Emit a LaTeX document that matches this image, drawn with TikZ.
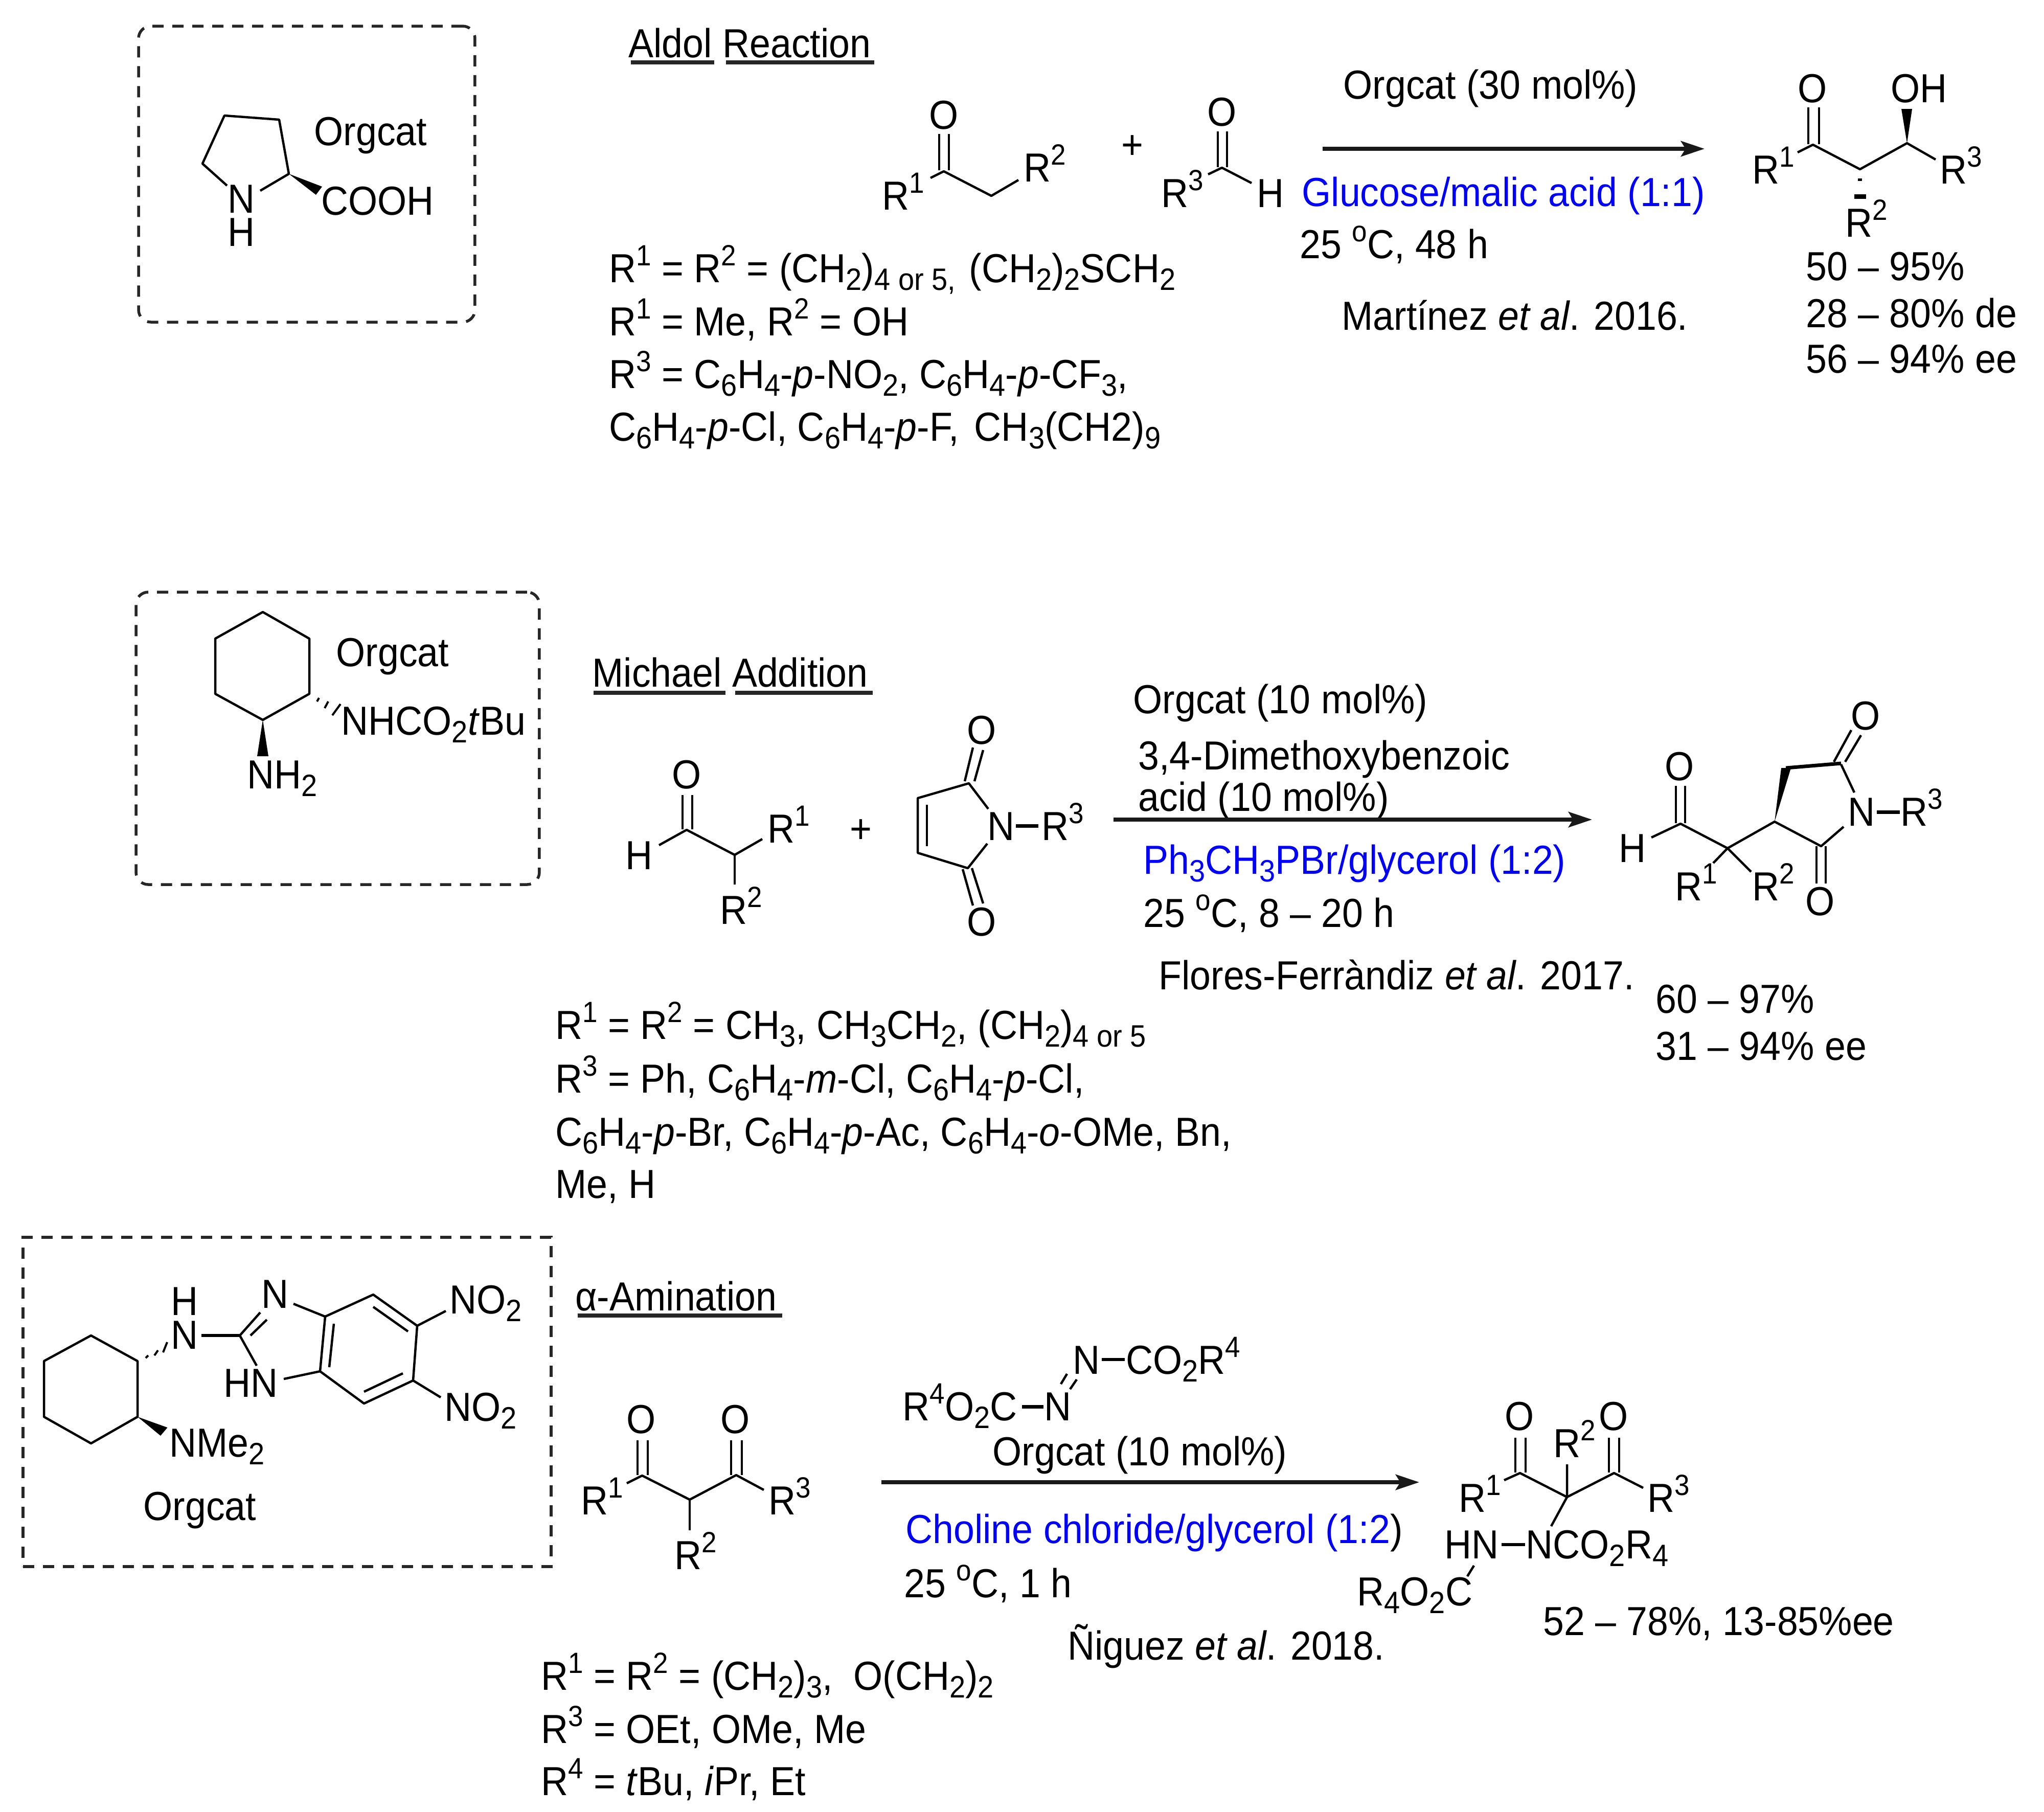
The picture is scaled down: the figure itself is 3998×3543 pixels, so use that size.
\documentclass[tikz,border=0pt]{standalone}
\usepackage{fontspec}
\setmainfont{Liberation Sans}
\usetikzlibrary{arrows.meta}
\newcommand{\hi}[1]{\raisebox{3pt}{\fontsize{5.3}{6}\selectfont #1}}
\newcommand{\lo}[1]{\raisebox{-1.4pt}{\fontsize{5.6}{6}\selectfont #1}}
\tikzset{
  basetxt/.style={inner sep=0pt,outer sep=0pt,yscale=1.08,transform shape,font=\fontsize{7.35}{9}\selectfont},
  txt/.style={basetxt,anchor=base west,xshift=-0.45pt},
  atom/.style={basetxt,anchor=base},
  bond/.style={line width=0.45pt,black,line join=round},
  thickbond/.style={line width=0.7pt,black},
  uline/.style={line width=0.8pt,black!85},
  rxn/.style={line width=0.8pt,black!90,-{Stealth[length=4.6pt,width=3pt,inset=0.9pt]}},
  catbox/.style={draw=black!85,line width=0.55pt,dash pattern=on 2.2pt off 1.7pt,inner sep=0pt},
  solv/.style={txt,text=blue},
}
\begin{document}
\begin{tikzpicture}[x=0.1pt,y=-0.1pt]
\useasboundingbox (0,0) rectangle (3998,3543);
% ---------- boxes
\node[catbox,rounded corners=2.4pt,minimum width=65.8pt,minimum height=57.9pt] (boxA) at (600,340.5) {};
\node[catbox,rounded corners=2.4pt,minimum width=78.9pt,minimum height=57.2pt] (boxB) at (660.5,1444) {};
\node[catbox,minimum width=103.3pt,minimum height=64.4pt] (boxC) at (561.5,2742) {};

% ---------- Aldol: catalyst
\draw[bond] (444,363) -- (396,320) -- (439,226) -- (546,234) -- (565,340) -- (509,373);
\fill (565,340) -- (630,365) -- (618,381) -- cycle;
\node[txt] (catAn) at (450,416) {N};
\node[txt] (catAh) at (450,481) {H};
\node[txt] (catAc) at (633,420) {COOH};
\node[txt] (catAo) at (619,284) {Orgcat};
% heading
\node[txt] (hdA) at (1234,112) {Aldol Reaction};
\draw[uline] (1234,122) -- (1397,122);
\draw[uline] (1420,122) -- (1710,122);
% ketone
\node[atom] (kO) at (1846,252) {O};
\draw[bond] (1837,262) -- (1837,333);
\draw[bond] (1856,262) -- (1856,333);
\draw[bond] (1820,348) -- (1846,335) -- (1939,383) -- (1992,352);
\node[txt] (kR1) at (1730,410) {R\hi{1}};
\node[txt] (kR2) at (2007,355) {R\hi{2}};
\node[atom] (plusA) at (2215,310) {+};
% aldehyde
\node[atom] (aO) at (2390,246) {O};
\draw[bond] (2382,257) -- (2382,327);
\draw[bond] (2400,257) -- (2400,327);
\draw[bond] (2363,341) -- (2390,328) -- (2448,358);
\node[txt] (aR3) at (2276,405) {R\hi{3}};
\node[txt] (aH) at (2463,405) {H};
% conditions
\node[txt] (cA1) at (2632,193) {Orgcat (30 mol\%)};
\coordinate (arAs) at (2587,291);
\coordinate (arAe) at (3334,291);
\draw[rxn] (arAs) -- (arAe);
\node[solv] (cA2) at (2551,403) {Glucose/malic acid (1:1)};
\node[txt] (cA3) at (2547,505) {25 \hi{o}C, 48 h};
\node[txt] (cA4) at (2629,645) {Martínez \textit{et al}. 2016.};
% product
\node[atom] (pAo) at (3545,200) {O};
\node[txt] (pAoh) at (3703,200) {OH};
\draw[bond] (3537,210) -- (3537,282);
\draw[bond] (3558,210) -- (3558,282);
\draw[bond] (3516,298) -- (3546,283) -- (3638,331) -- (3730,280) -- (3786,312);
\fill (3730,280) -- (3719,213) -- (3740,213) -- cycle;
\draw[line width=0.5pt] (3634,351) -- (3642,351);
\draw[line width=0.9pt] (3627,384) -- (3650,384);
\node[txt] (pAr1) at (3432,359) {R\hi{1}};
\node[txt] (pAr3) at (3799,359) {R\hi{3}};
\node[txt] (pAr2) at (3614,463) {R\hi{2}};
\node[txt] (yA1) at (3537,548) {50 – 95\%};
\node[txt] (yA2) at (3537,640) {28 – 80\% de};
\node[txt] (yA3) at (3537,729) {56 – 94\% ee};
% substituents
\node[txt] (sA1) at (1196,552) {R\hi{1} = R\hi{2} = (CH\lo{2})\lo{4 or 5}\lo{,}\hspace{0.6pt} (CH\lo{2})\lo{2}SCH\lo{2}};
\node[txt] (sA2) at (1196,656) {R\hi{1} = Me, R\hi{2} = OH};
\node[txt] (sA3) at (1196,759) {R\hi{3} = C\lo{6}H\lo{4}-\textit{p}-NO\lo{2}, C\lo{6}H\lo{4}-\textit{p}-CF\lo{3},};
\node[txt] (sA4) at (1196,862) {C\lo{6}H\lo{4}-\textit{p}-Cl, C\lo{6}H\lo{4}-\textit{p}-F,\hspace{1pt} CH\lo{3}(CH2)\lo{9}};

% ---------- Michael: catalyst
\draw[bond] (514,1197) -- (605,1249) -- (605,1357) -- (514,1408) -- (421,1357) -- (421,1249) -- cycle;
\fill (514,1408) -- (503,1479) -- (525,1479) -- cycle;
\draw[line width=0.4pt] (620,1372) -- (624,1365);
\draw[line width=0.4pt] (635,1385) -- (642,1372);
\draw[line width=0.4pt] (650,1399) -- (666,1377);
\node[txt] (catBo) at (662,1303) {Orgcat};
\node[txt] (catBa) at (672,1437) {NHCO\lo{2}\textit{t}Bu};
\node[txt] (catBn) at (488,1542) {NH\lo{2}};
\node[txt] (hdB) at (1163,1343) {Michael Addition};
\draw[uline] (1161,1355) -- (1419,1355);
\draw[uline] (1438,1355) -- (1707,1355);
% aldehyde
\node[atom] (mO) at (1343,1542) {O};
\draw[bond] (1335,1555) -- (1335,1622);
\draw[bond] (1354,1555) -- (1354,1622);
\draw[bond] (1289,1653) -- (1343,1623) -- (1437,1672) -- (1491,1641);
\draw[bond] (1437,1672) -- (1437,1730);
\node[txt] (mH) at (1228,1700) {H};
\node[txt] (mR1) at (1506,1648) {R\hi{1}};
\node[txt] (mR2) at (1413,1807) {R\hi{2}};
\node[atom] (plusB) at (1684,1648) {+};
% maleimide
\node[atom] (iO1) at (1920,1455) {O};
\node[atom] (iO2) at (1920,1830) {O};
\draw[bond] (1887,1528) -- (1903,1462);
\draw[bond] (1906,1528) -- (1923,1467);
\draw[bond] (1933,1582) -- (1895,1532) -- (1795,1561) -- (1795,1668) -- (1893,1698) -- (1931,1650);
\draw[bond] (1813,1574) -- (1813,1655);
\draw[bond] (1883,1700) -- (1903,1771);
\draw[bond] (1901,1698) -- (1923,1767);
\node[txt] (iN) at (1936,1643) {N};
\draw[thickbond] (1987,1615) -- (2031,1615);
\node[txt] (iR3) at (2042,1643) {R\hi{3}};
% conditions
\node[txt] (cB1) at (2221,1395) {Orgcat (10 mol\%)};
\node[txt] (cB2) at (2231,1505) {3,4-Dimethoxybenzoic};
\node[txt] (cB3) at (2231,1586) {acid (10 mol\%)};
\coordinate (arBs) at (2178,1603);
\coordinate (arBe) at (3114,1603);
\draw[rxn] (arBs) -- (arBe);
\node[solv] (cB4) at (2241,1709) {Ph\lo{3}CH\lo{3}PBr/glycerol (1:2)};
\node[txt] (cB5) at (2241,1813) {25 \hi{o}C, 8 – 20 h};
\node[txt] (cB6) at (2271,1935) {Flores-Ferràndiz \textit{et al}. 2017.};
% product
\node[atom] (pBo) at (3285,1526) {O};
\draw[bond] (3278,1537) -- (3278,1610);
\draw[bond] (3296,1537) -- (3296,1610);
\draw[bond] (3230,1638) -- (3287,1611) -- (3379,1659) -- (3471,1607) -- (3562,1655) -- (3606,1617);
\draw[bond] (3351,1688) -- (3379,1659) -- (3425,1705);
\fill (3471,1607) -- (3484,1502) -- (3503,1502) -- cycle;
\draw[line width=0.7pt] (3493,1502) -- (3601,1493);
\draw[bond] (3587,1490) -- (3621,1428);
\draw[bond] (3609,1490) -- (3640,1438);
\draw[bond] (3601,1495) -- (3627,1550);
\draw[bond] (3553,1655) -- (3553,1728);
\draw[bond] (3571,1655) -- (3571,1728);
\node[txt] (pBh) at (3171,1686) {H};
\node[txt] (pBr1) at (3281,1761) {R\hi{1}};
\node[txt] (pBr2) at (3432,1761) {R\hi{2}};
\node[atom] (pBo2) at (3649,1427) {O};
\node[atom] (pBo3) at (3560,1790) {O};
\node[txt] (pBn) at (3619,1615) {N};
\draw[thickbond] (3671,1588) -- (3716,1588);
\node[txt] (pBr3) at (3722,1615) {R\hi{3}};
\node[txt] (yB1) at (3243,1981) {60 – 97\%};
\node[txt] (yB2) at (3243,2073) {31 – 94\% ee};
% substituents
\node[txt] (sB1) at (1091,2032) {R\hi{1} = R\hi{2} = CH\lo{3}, CH\lo{3}CH\lo{2}, (CH\lo{2})\lo{4 or 5}};
\node[txt] (sB2) at (1091,2137) {R\hi{3} = Ph, C\lo{6}H\lo{4}-\textit{m}-Cl, C\lo{6}H\lo{4}-\textit{p}-Cl,};
\node[txt] (sB3) at (1091,2241) {C\lo{6}H\lo{4}-\textit{p}-Br, C\lo{6}H\lo{4}-\textit{p}-Ac, C\lo{6}H\lo{4}-\textit{o}-OMe, Bn,};
\node[txt] (sB4) at (1091,2343) {Me, H};

% ---------- Amination: catalyst
\draw[bond] (178,2612) -- (269,2662) -- (269,2771) -- (178,2823) -- (86,2771) -- (86,2662) -- cycle;
\fill (269,2771) -- (327.5,2792) -- (314,2808) -- cycle;
\draw[line width=0.4pt] (285,2656) -- (290,2651);
\draw[line width=0.4pt] (302,2651) -- (309,2641);
\draw[line width=0.4pt] (319,2645) -- (327,2625);
\node[txt] (catCh) at (339,2572) {H};
\node[txt] (catCn) at (339,2638) {N};
\draw[line width=0.6pt] (394,2612) -- (469,2612);
\draw[bond] (469,2612) -- (509,2567);
\draw[bond] (490,2612) -- (522,2581);
\draw[bond] (469,2612) -- (502,2671);
\node[txt] (catCn2) at (516,2558) {N};
\node[txt] (catCnh) at (442,2732) {HN};
\draw[bond] (555,2697) -- (626,2682);
\draw[bond] (574,2550) -- (636,2575);
\draw[bond] (636,2575) -- (730,2532) -- (816,2593) -- (808,2700) -- (712,2745) -- (626,2682) -- cycle;
\draw[bond] (653,2589) -- (644,2674);
\draw[bond] (730,2556) -- (798,2604);
\draw[bond] (788,2686) -- (712,2722);
\draw[bond] (816,2593) -- (872,2564);
\draw[bond] (808,2700) -- (862,2733);
\node[txt] (catCno1) at (884,2569) {NO\lo{2}};
\node[txt] (catCno2) at (874,2779) {NO\lo{2}};
\node[txt] (catCme) at (336,2849) {NMe\lo{2}};
\node[txt] (catCo) at (285,2973) {Orgcat};
\node[txt] (hdC) at (1130,2563) {α-Amination};
\draw[uline] (1130,2573) -- (1530,2573);
% diketone
\node[atom] (dO1) at (1254,2803) {O};
\node[atom] (dO2) at (1438,2803) {O};
\draw[bond] (1247,2817) -- (1247,2885);
\draw[bond] (1267,2817) -- (1267,2885);
\draw[bond] (1430,2817) -- (1430,2885);
\draw[bond] (1451,2817) -- (1451,2885);
\draw[bond] (1226,2901) -- (1256,2886) -- (1349,2933) -- (1440,2885) -- (1494,2914);
\draw[bond] (1349,2933) -- (1349,2993);
\node[txt] (dR1) at (1141,2962) {R\hi{1}};
\node[txt] (dR3) at (1508,2962) {R\hi{3}};
\node[txt] (dR2) at (1324,3069) {R\hi{2}};
% azodicarboxylate
\node[txt] (zL) at (1770,2778) {R\hi{4}O\lo{2}C};
\draw[thickbond] (1999,2751) -- (2041,2751);
\node[txt] (zN1) at (2047,2778) {N};
\draw[bond] (2075,2707) -- (2087,2687);
\draw[bond] (2093,2717) -- (2106,2698);
\node[txt] (zN2) at (2103,2687) {N};
\draw[line width=0.6pt] (2155,2659) -- (2200,2659);
\node[txt] (zR) at (2207,2687) {CO\lo{2}R\hi{4}};
% conditions
\node[txt] (cC1) at (1946,2866) {Orgcat (10 mol\%)};
\coordinate (arCs) at (1724,2899);
\coordinate (arCe) at (2776,2899);
\draw[rxn] (arCs) -- (arCe);
\node[txt] (cC2) at (1776,3018) {\textcolor{blue}{Choline chloride/glycerol (1:2}\hspace{0pt})};
\node[txt] (cC3) at (1773,3124) {25 \hi{o}C, 1 h};
\node[txt] (cC4) at (2093,3246) {Ñiguez \textit{et al}. 2018.};
% product
\node[atom] (pCo1) at (2972,2797) {O};
\node[atom] (pCo2) at (3156,2797) {O};
\draw[bond] (2964,2812) -- (2964,2880);
\draw[bond] (2984,2812) -- (2984,2880);
\draw[bond] (3147,2812) -- (3147,2880);
\draw[bond] (3167,2812) -- (3167,2880);
\draw[bond] (2942,2895) -- (2973,2881) -- (3065,2928) -- (3157,2881) -- (3214,2910);
\draw[bond] (3065,2864) -- (3065,2928) -- (3034,2985);
\node[txt] (pCr1) at (2858,2957) {R\hi{1}};
\node[txt] (pCr2) at (3043,2850) {R\hi{2}};
\node[txt] (pCr3) at (3227,2957) {R\hi{3}};
\node[txt] (pChn) at (2830,3048) {HN};
\draw[line width=0.6pt] (2937,3021) -- (2983,3021);
\node[txt] (pCn) at (2989,3048) {NCO\lo{2}R\lo{4}};
\draw[bond] (2883,3062) -- (2870,3083);
\node[txt] (pCe) at (2659,3140) {R\lo{4}O\lo{2}C};
\node[txt] (yC) at (3023,3198) {52 – 78\%, 13-85\%ee};
% substituents
\node[txt] (sC1) at (1063,3305) {R\hi{1} = R\hi{2} = (CH\lo{2})\lo{3},\hspace{2pt} O(CH\lo{2})\lo{2}};
\node[txt] (sC2) at (1063,3409) {R\hi{3} = OEt, OMe, Me};
\node[txt] (sC3) at (1063,3511) {R\hi{4} = \textit{t}Bu, \textit{i}Pr, Et};
\end{tikzpicture}
\end{document}
